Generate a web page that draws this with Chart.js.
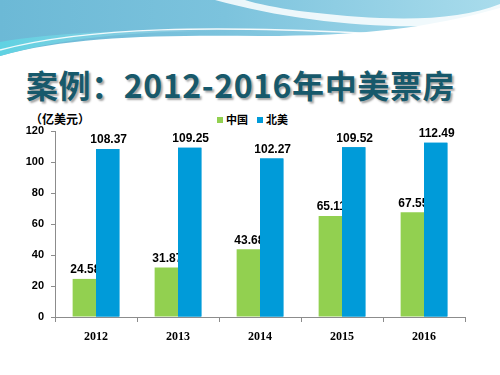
<!DOCTYPE html>
<html>
<head>
<meta charset="utf-8">
<script src="https://cdn.jsdelivr.net/npm/chart.js@4.4.1/dist/chart.umd.min.js"></script>
<style>
  body { margin: 0; background: #fff; }
  #slide { position: relative; width: 500px; height: 375px; overflow: hidden; background: #fff; }
  #waves { position: absolute; left: 0; top: 0; }
  #title {
    position: absolute; left: 26px; top: 61px;
    font-family: "Noto Sans CJK SC", sans-serif; font-weight: bold;
    font-size: 32px; letter-spacing: 0.6px; color: #17596b; white-space: nowrap;
    text-shadow: 2px 2px 2px rgba(0,0,0,0.35);
  }
  #unit {
    position: absolute; left: 30px; top: 110px;
    font-family: "Noto Sans CJK SC", sans-serif; font-weight: bold;
    font-size: 12px; color: #000;
  }
  #legend {
    position: absolute; left: 217px; top: 111px;
    font-family: "Noto Sans CJK SC", sans-serif; font-weight: bold;
    font-size: 11px; color: #000; white-space: nowrap;
  }
  #legend span.box { display: inline-block; width: 6px; height: 6px; margin-right: 3px; vertical-align: 1px; }
  #legend span.item { margin-right: 9px; }
  #chart { position: absolute; left: 0; top: 0; }
</style>
</head>
<body>
<div id="slide">
  <svg id="waves" width="500" height="80">
    <defs>
      <linearGradient id="topBlue" x1="0" y1="0" x2="1" y2="0">
        <stop offset="0" stop-color="#6cb9d6"/>
        <stop offset="0.45" stop-color="#7cc3dd"/>
        <stop offset="1" stop-color="#a9dcec"/>
      </linearGradient>
      <linearGradient id="cyanEdge" x1="0" y1="0" x2="1" y2="0">
        <stop offset="0" stop-color="#5fd2e2"/>
        <stop offset="0.6" stop-color="#8ed6e6" stop-opacity="0.6"/>
        <stop offset="1" stop-color="#bfe8f2" stop-opacity="0"/>
      </linearGradient>
    </defs>
    <path d="M0,0 H500 V8 C430,28 360,36 260,36 C160,35 70,36 0,56 Z" fill="url(#topBlue)"/>
    <path d="M0,56 C60,38 140,30 230,31 C160,30 70,30 0,42 Z" fill="url(#cyanEdge)"/>
    <path d="M215,0 C280,18 360,28 430,26 C460,25 485,18 500,10 V4 C470,16 430,20 380,18 C320,15 270,8 245,0 Z" fill="#ffffff" opacity="0.85"/>
    <path d="M0,50 C90,26 220,26 360,33 C420,36 470,30 500,22" fill="none" stroke="#ffffff" stroke-width="1.5" opacity="0.9"/>
  </svg>
  <div id="title">案例：2012-2016年中美票房</div>
  <div id="unit">（亿美元）</div>
  <div id="legend"></div>
  <canvas id="chart" width="500" height="375"></canvas>
</div>
<script>
const years = ['2012', '2013', '2014', '2015', '2016'];
const seriesNames = ['中国', '北美'];
const chinaBox = [24.58, 31.87, 43.68, 65.11, 67.55];
const naBox = [108.37, 109.25, 102.27, 109.52, 112.49];
const yTicks = [0, 20, 40, 60, 80, 100, 120];
const barColors = ['#92d050', '#009bd9'];

Chart.defaults.font.family = '"Liberation Sans", Arial, sans-serif';
Chart.defaults.color = '#000';

function drawLabels(chart, i) {
  const ctx = chart.ctx;
  const meta = chart.getDatasetMeta(i);
  const values = chart.data.datasets[i].data;
  ctx.save();
  ctx.font = 'bold 12px "Liberation Sans", Arial, sans-serif';
  ctx.fillStyle = '#000';
  ctx.textAlign = 'center';
  ctx.textBaseline = 'bottom';
  meta.data.forEach((bar, j) => {
    ctx.fillText(values[j].toFixed(2), bar.x + 1, bar.y - 3);
  });
  ctx.restore();
}

// value labels: green labels go under the blue bars, like in the slide
const valueLabels = {
  id: 'valueLabels',
  afterDatasetsDraw(chart) {
    drawLabels(chart, 0);
    chart.getDatasetMeta(1).controller.draw();
    drawLabels(chart, 1);
  }
};

const chart = new Chart(document.getElementById('chart'), {
  type: 'bar',
  data: {
    labels: years,
    datasets: [
      { label: seriesNames[0], data: chinaBox, backgroundColor: barColors[0] },
      { label: seriesNames[1], data: naBox, backgroundColor: barColors[1] }
    ]
  },
  options: {
    responsive: false,
    animation: false,
    categoryPercentage: 0.57,
    barPercentage: 1.0,
    layout: { padding: { left: 10, right: 35, top: 131, bottom: 0 } },
    plugins: {
      tooltip: { enabled: false },
      legend: { display: false }
    },
    scales: {
      x: {
        afterFit(scale) { scale.height = 58; },
        grid: { display: true, drawOnChartArea: false, drawTicks: true, tickLength: 5, color: '#8c8c8c' },
        border: { color: '#8c8c8c' },
        ticks: {
          padding: 8,
          font: { family: '"Liberation Serif", serif', size: 12, weight: 'bold' }
        }
      },
      y: {
        min: 0, max: 120,
        afterFit(scale) { scale.width = 45; },
        afterBuildTicks(scale) { scale.ticks = yTicks.map(v => ({ value: v })); },
        grid: { display: true, drawOnChartArea: false, drawTicks: true, tickLength: 4, color: '#8c8c8c' },
        border: { color: '#8c8c8c' },
        ticks: {
          padding: 7,
          font: { size: 11, weight: 'bold' }
        }
      }
    }
  },
  plugins: [valueLabels]
});

// legend from the chart's own datasets
const legend = document.getElementById('legend');
chart.data.datasets.forEach(ds => {
  const item = document.createElement('span');
  item.className = 'item';
  item.innerHTML = `<span class="box" style="background:${ds.backgroundColor}"></span>${ds.label}`;
  legend.appendChild(item);
});
</script>
</body>
</html>
